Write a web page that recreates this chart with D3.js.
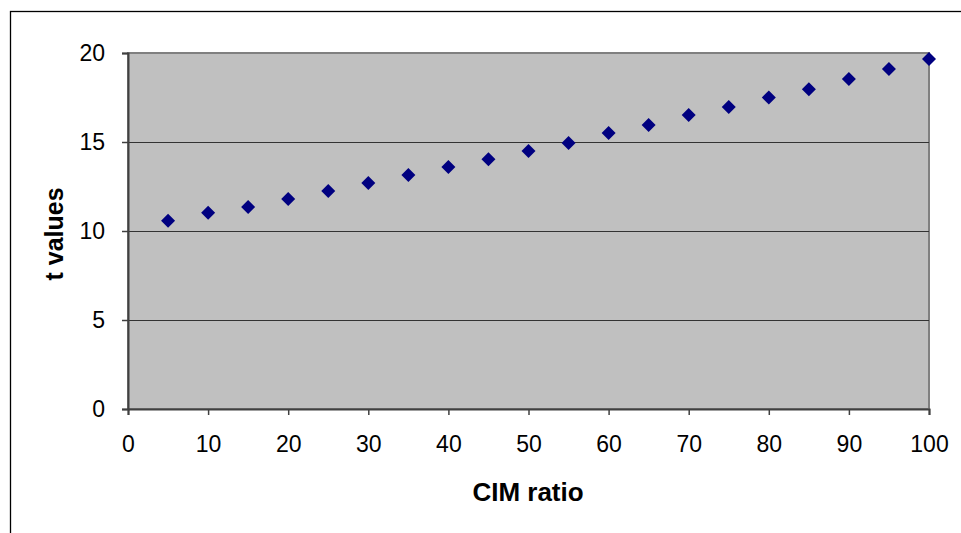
<!DOCTYPE html>
<html>
<head>
<meta charset="utf-8">
<script src="https://cdn.jsdelivr.net/npm/d3@7"></script>
<style>
  body { margin: 0; background: #fff; }
  text { font-family: "Liberation Sans", Arial, sans-serif; fill: #000; }
</style>
</head>
<body>
<div id="chart"></div>
<script>
// CIM ratio vs t values
const cimRatio = [5, 10, 15, 20, 25, 30, 35, 40, 45, 50, 55, 60, 65, 70, 75, 80, 85, 90, 95, 100];
const tValues = [10.57, 11.02, 11.35, 11.8, 12.25, 12.7, 13.15, 13.6, 14.03, 14.5, 14.94, 15.51, 15.95, 16.52, 16.96, 17.5, 17.97, 18.54, 19.1, 19.66];
const xTicks = [0, 10, 20, 30, 40, 50, 60, 70, 80, 90, 100];
const yTicks = [0, 5, 10, 15, 20];

const W = 961, H = 533;
const plot = { left: 128, right: 929, top: 53, bottom: 409 };

const svg = d3.select('#chart').append('svg')
  .attr('width', W)
  .attr('height', H);

// chart area border (runs off the right and bottom)
svg.append('rect')
  .attr('x', 10.5).attr('y', 11.5)
  .attr('width', 1000).attr('height', 600)
  .attr('fill', '#fff')
  .attr('stroke', '#000')
  .attr('stroke-width', 1.3);

const x = d3.scaleLinear().domain([0, 100]).range([plot.left, plot.right]);
const y = d3.scaleLinear().domain([0, 20]).range([plot.bottom, plot.top]);

// plot area
svg.append('rect')
  .attr('x', plot.left).attr('y', plot.top)
  .attr('width', plot.right - plot.left)
  .attr('height', plot.bottom - plot.top)
  .attr('fill', '#c0c0c0')
  .attr('stroke', '#808080')
  .attr('stroke-width', 2);

// gridlines
svg.append('g')
  .selectAll('line')
  .data(yTicks.filter(d => d > 0 && d < 20))
  .enter().append('line')
  .attr('x1', plot.left).attr('x2', plot.right)
  .attr('y1', d => Math.round(y(d)) + 0.5)
  .attr('y2', d => Math.round(y(d)) + 0.5)
  .attr('stroke', '#333')
  .attr('stroke-width', 1);

// axes
const yAxis = d3.axisLeft(y).tickValues(yTicks).tickSize(6).tickPadding(17);
const gy = svg.append('g')
  .attr('transform', 'translate(' + plot.left + ',0)')
  .call(yAxis);

const xAxis = d3.axisBottom(x).tickValues(xTicks).tickSize(6).tickPadding(21);
const gx = svg.append('g')
  .attr('transform', 'translate(0,' + plot.bottom + ')')
  .call(xAxis);

[gx, gy].forEach(g => {
  g.select('.domain').attr('stroke', '#404040').attr('stroke-width', 2);
  g.selectAll('.tick line').attr('stroke', '#404040').attr('stroke-width', 1.5);
  g.selectAll('.tick text')
    .style('font-family', '"Liberation Sans", Arial, sans-serif')
    .style('font-size', '23px')
    .attr('fill', '#000');
});

// points
svg.append('g')
  .selectAll('path')
  .data(cimRatio)
  .enter().append('path')
  .attr('d', d3.symbol().type(d3.symbolSquare).size(98))
  .attr('transform', (d, i) => 'translate(' + x(d) + ',' + y(tValues[i]) + ') rotate(45)')
  .attr('fill', '#000080');

// axis titles
svg.append('text')
  .attr('x', 528)
  .attr('y', 501)
  .attr('text-anchor', 'middle')
  .style('font-size', '26px')
  .style('font-weight', 'bold')
  .text('CIM ratio');

svg.append('text')
  .attr('transform', 'translate(63,234) rotate(-90)')
  .attr('text-anchor', 'middle')
  .style('font-size', '25px')
  .style('font-weight', 'bold')
  .text('t values');
</script>
</body>
</html>
